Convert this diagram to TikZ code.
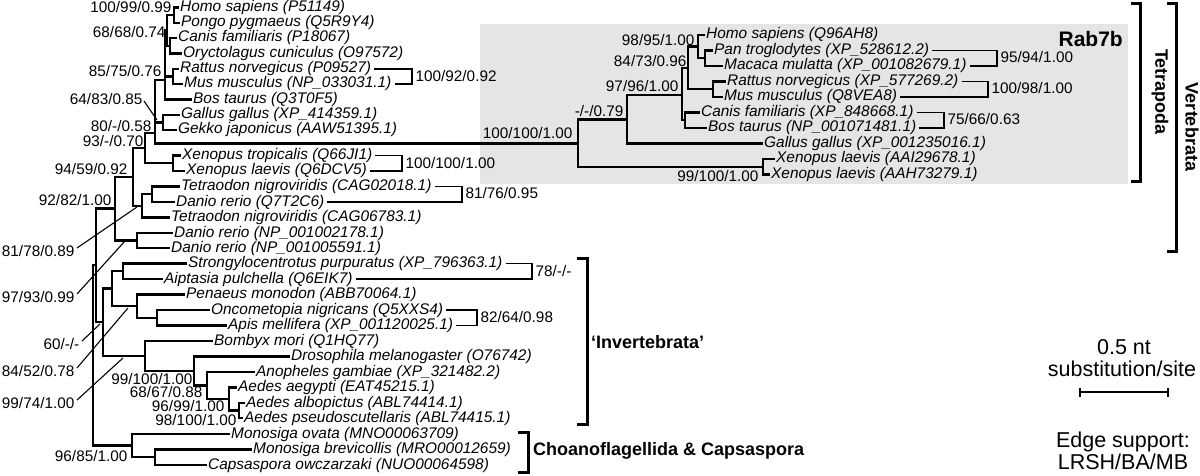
\documentclass[tikz,border=0pt]{standalone}
\usepackage{fontspec}
\setmainfont{Liberation Sans}
\begin{document}
\begin{tikzpicture}[x=1pt,y=-1pt,
  leaflab/.style={anchor=west,inner sep=1pt,font=\fontsize{15.4}{16}\selectfont\itshape,text height=11pt,text depth=3pt},
  suplab/.style={inner sep=0.5pt,font=\fontsize{15.3}{16}\selectfont,text height=10.5pt,text depth=1pt},
  biglab/.style={inner sep=0pt,font=\fontsize{18}{20}\selectfont\bfseries},
  notelab/.style={inner sep=0pt,font=\fontsize{21.5}{23}\selectfont},
  treeline/.style={line width=2.2pt},
  thinline/.style={line width=1.1pt},
  bracketline/.style={line width=3pt},
]
\useasboundingbox (0,0) rectangle (1200,476);
\fill[gray!20] (480,24) rectangle (1128,184);

% ---------- leaves (Rab7) ----------
\node[leaflab] (homo)   at (179,7.5)   {Homo sapiens (P51149)};
\node[leaflab] (pongo)  at (180,23)    {Pongo pygmaeus (Q5R9Y4)};
\node[leaflab] (canis)  at (177,38)    {Canis familiaris (P18067)};
\node[leaflab] (oryct)  at (182,53.5)  {Oryctolagus cuniculus (O97572)};
\node[leaflab] (rattus) at (179,69)    {Rattus norvegicus (P09527)};
\node[leaflab] (mus)    at (183,84)    {Mus musculus (NP\_033031.1)};
\node[leaflab] (bos)    at (192,99.5)  {Bos taurus (Q3T0F5)};
\node[leaflab] (gallus) at (180,115)   {Gallus gallus (XP\_414359.1)};
\node[leaflab] (gekko)  at (177,130)   {Gekko japonicus (AAW51395.1)};
\node[leaflab] (xtrop)  at (181,155.5) {Xenopus tropicalis (Q66JI1)};
\node[leaflab] (xlaev)  at (185,171)   {Xenopus laevis (Q6DCV5)};
\node[leaflab] (tet1)   at (180,186.5) {Tetraodon nigroviridis (CAG02018.1)};
\node[leaflab] (dan1)   at (175,202)   {Danio rerio (Q7T2C6)};
\node[leaflab] (tet2)   at (170,217.5) {Tetraodon nigroviridis (CAG06783.1)};
\node[leaflab] (dan2)   at (173,233)   {Danio rerio (NP\_001002178.1)};
\node[leaflab] (dan3)   at (170,248)   {Danio rerio (NP\_001005591.1)};
\node[leaflab] (strong) at (187,263.5) {Strongylocentrotus purpuratus (XP\_796363.1)};
\node[leaflab] (aipt)   at (163,279)   {Aiptasia pulchella (Q6EIK7)};
\node[leaflab] (pen)    at (185,294.5) {Penaeus monodon (ABB70064.1)};
\node[leaflab] (onco)   at (210,310)   {Oncometopia nigricans (Q5XXS4)};
\node[leaflab] (apis)   at (227,325.5) {Apis mellifera (XP\_001120025.1)};
\node[leaflab] (bomb)   at (213,341)   {Bombyx mori (Q1HQ77)};
\node[leaflab] (dros)   at (290,356.5) {Drosophila melanogaster (O76742)};
\node[leaflab] (anoph)  at (255,372)   {Anopheles gambiae (XP\_321482.2)};
\node[leaflab] (aaeg)   at (237,387.5) {Aedes aegypti (EAT45215.1)};
\node[leaflab] (aalb)   at (245,403)   {Aedes albopictus (ABL74414.1)};
\node[leaflab] (apse)   at (243,418)   {Aedes pseudoscutellaris (ABL74415.1)};
\node[leaflab] (mova)   at (230,434)   {Monosiga ovata (MNO00063709)};
\node[leaflab] (mbre)   at (252,449.5) {Monosiga brevicollis (MRO00012659)};
\node[leaflab] (caps)   at (207,465)   {Capsaspora owczarzaki (NUO00064598)};

% ---------- leaves (Rab7b) ----------
\node[leaflab] (homoB) at (705,35)    {Homo sapiens (Q96AH8)};
\node[leaflab] (panB)  at (713,50.5)  {Pan troglodytes (XP\_528612.2)};
\node[leaflab] (macB)  at (723,66)    {Macaca mulatta (XP\_001082679.1)};
\node[leaflab] (ratB)  at (726,81.5)  {Rattus norvegicus (XP\_577269.2)};
\node[leaflab] (musB)  at (723,97)    {Mus musculus (Q8VEA8)};
\node[leaflab] (canB)  at (700,112.5) {Canis familiaris (XP\_848668.1)};
\node[leaflab] (bosB)  at (707,128)   {Bos taurus (NP\_001071481.1)};
\node[leaflab] (galB)  at (763,143.5) {Gallus gallus (XP\_001235016.1)};
\node[leaflab] (xen1B) at (775,159)   {Xenopus laevis (AAI29678.1)};
\node[leaflab] (xen2B) at (770,174.5) {Xenopus laevis (AAH73279.1)};

% ---------- internal nodes ----------
\coordinate (nHP) at (174,15.25);
\coordinate (nCO) at (170,45.75);
\coordinate (nHPCO) at (167,30.5);
\coordinate (nRMa) at (173,76.5);
\coordinate (nA) at (165,80);
\coordinate (nGG) at (163,122.5);
\coordinate (nB) at (155,133);
\coordinate (nXX) at (173,163.25);
\coordinate (nC) at (145,148);
\coordinate (nTD) at (152,194.25);
\coordinate (nF) at (142,206);
\coordinate (nE) at (133,177);
\coordinate (nDD) at (137,240.5);
\coordinate (nG) at (115,208.5);
\coordinate (nSA) at (123,271.25);
\coordinate (nOA) at (157,317.75);
\coordinate (nPO) at (137,306);
\coordinate (nSAPO) at (112,288.5);
\coordinate (nAP) at (239,410.5);
\coordinate (nAE) at (229,399);
\coordinate (nAA) at (207,385.5);
\coordinate (nDI) at (194,371);
\coordinate (nBD) at (145,356);
\coordinate (nI) at (103,322);
\coordinate (nVI) at (96,265);
\coordinate (nMC) at (155,457.25);
\coordinate (nCH) at (132,445.5);
\coordinate (nRoot) at (93,355);
\coordinate (nRa) at (578,143.5);
\coordinate (nRb) at (627,119.5);
\coordinate (nRc) at (682,95);
\coordinate (nRd) at (688,68);
\coordinate (nRe) at (698,46.5);
\coordinate (nRf) at (705,58.25);
\coordinate (nRg) at (713,89.25);
\coordinate (nRh) at (685,120.25);
\coordinate (nRi) at (763,166.75);

% ---------- edges ----------
\foreach \p/\c in {nHPCO/nHP,nHPCO/nCO,nA/nHPCO,nA/nRMa,nB/nA,nB/nGG,nB/nRa,
  nC/nB,nC/nXX,nF/nTD,nE/nC,nE/nF,nG/nE,nG/nDD,nPO/nOA,nSAPO/nSA,nSAPO/nPO,
  nAE/nAP,nAA/nAE,nDI/nAA,nBD/nDI,nI/nSAPO,nI/nBD,nVI/nG,nVI/nI,nCH/nMC,
  nRoot/nVI,nRoot/nCH,nRa/nRb,nRa/nRi,nRb/nRc,nRc/nRd,nRc/nRh,nRd/nRe,nRd/nRg,nRe/nRf}
  \draw[treeline] (\p) |- (\c);
\foreach \p/\c in {nHP/homo,nHP/pongo,nCO/canis,nCO/oryct,nRMa/rattus,nRMa/mus,nA/bos,
  nGG/gallus,nGG/gekko,nXX/xtrop,nXX/xlaev,nTD/tet1,nTD/dan1,nF/tet2,nDD/dan2,nDD/dan3,
  nSA/strong,nSA/aipt,nPO/pen,nOA/onco,nOA/apis,nBD/bomb,nDI/dros,nAA/anoph,nAE/aaeg,
  nAP/aalb,nAP/apse,nCH/mova,nMC/mbre,nMC/caps,
  nRe/homoB,nRf/panB,nRf/macB,nRg/ratB,nRg/musB,nRh/canB,nRh/bosB,nRb/galB,nRi/xen1B,nRi/xen2B}
  \draw[treeline] (\p) |- (\c.west);

% ---------- support labels ----------
\node[suplab,anchor=east] (s1) at (172,7.5) {100/99/0.99};
\node[suplab,anchor=east] (s2) at (166,33) {68/68/0.74};
\node[suplab,anchor=east] (s3) at (162,72) {85/75/0.76};
\node[suplab,anchor=east] (s4) at (143,100) {64/83/0.85};
\node[suplab,anchor=east] (s5) at (152,127) {80/-/0.58};
\node[suplab,anchor=east] (s6) at (144,142) {93/-/0.70};
\node[suplab,anchor=east] (s7) at (128,170) {94/59/0.92};
\node[suplab,anchor=east] (s8) at (112,201) {92/82/1.00};
\node[suplab,anchor=east] (s9) at (75,252) {81/78/0.89};
\node[suplab,anchor=east] (s10) at (75,298) {97/93/0.99};
\node[suplab,anchor=east] (s11) at (80,345) {60/-/-};
\node[suplab,anchor=east] (s12) at (75,372) {84/52/0.78};
\node[suplab,anchor=east] (s13) at (75,404) {99/74/1.00};
\node[suplab,anchor=east] (s14) at (193,379.5) {99/100/1.00};
\node[suplab,anchor=east] (s15) at (203,393) {68/67/0.88};
\node[suplab,anchor=east] (s16) at (225,407) {96/99/1.00};
\node[suplab,anchor=east] (s17) at (237,421) {98/100/1.00};
\node[suplab,anchor=east] (s18) at (128,457) {96/85/1.00};
\node[suplab,anchor=east] (t1) at (573,134) {100/100/1.00};
\node[suplab,anchor=east] (t2) at (624,112) {-/-/0.79};
\node[suplab,anchor=east] (t3) at (679,87) {97/96/1.00};
\node[suplab,anchor=east] (t4) at (687,62) {84/73/0.96};
\node[suplab,anchor=east] (t5) at (695,41) {98/95/1.00};
\node[suplab,anchor=east] (t6) at (759,177) {99/100/1.00};

% pointers
\coordinate (q4) at (157,120);
\coordinate (q9) at (137,207);
\coordinate (q10) at (125,241);
\coordinate (q11) at (100,324);
\coordinate (q12) at (128,308);
\coordinate (q13) at (123,358);
\draw[thinline] ([shift={(1,1)}]s4.east) -- (q4);
\foreach \s/\q in {s9/q9,s10/q10,s11/q11,s12/q12,s13/q13}
  \draw[thinline] ([shift={(2,-4)}]\s.east) -- (\q);

% ---------- side brackets ----------
\coordinate (bRM) at (412,76.5);
\coordinate (bXX) at (402,163.25);
\coordinate (bTD) at (462,194.25);
\coordinate (bSA) at (532,271.25);
\coordinate (bOA) at (477,317.75);
\coordinate (bPM) at (997,58.25);
\coordinate (bRMb) at (988,89.25);
\coordinate (bCB) at (944,120.25);
\foreach \a/\b/\k in {rattus/mus/bRM,xtrop/xlaev/bXX,tet1/dan1/bTD,strong/aipt/bSA,onco/apis/bOA,
  panB/macB/bPM,ratB/musB/bRMb,canB/bosB/bCB}{
  \draw[thinline] ([xshift=2pt]\a.east) -| (\k);
  \draw[thinline] ([xshift=2pt]\b.east) -| (\k);
}
\node[suplab,anchor=west] (u1) at ([xshift=3pt]bRM) {100/92/0.92};
\node[suplab,anchor=west] (u2) at ([xshift=3pt]bXX) {100/100/1.00};
\node[suplab,anchor=west] (u3) at ([xshift=3pt]bTD) {81/76/0.95};
\node[suplab,anchor=west] (u4) at ([xshift=3pt]bSA) {78/-/-};
\node[suplab,anchor=west] (u5) at ([xshift=3pt]bOA) {82/64/0.98};
\node[suplab,anchor=west] (u6) at ([xshift=3pt]bPM) {95/94/1.00};
\node[suplab,anchor=west] (u7) at ([xshift=3pt]bRMb) {100/98/1.00};
\node[suplab,anchor=west] (u8) at ([xshift=3pt]bCB) {75/66/0.63};

% ---------- group brackets ----------
\node[inner sep=0pt,font=\fontsize{21}{23}\selectfont\bfseries,anchor=east] (rab) at (1123,39) {Rab7b};
\coordinate (invT) at (577,258);
\coordinate (invB) at (577,424);
\draw[bracketline] (invT) -- ++(10,0) |- (invB);
\node[biglab,anchor=west] (invL) at (591,342) {‘Invertebrata’};
\coordinate (choT) at (518,432);
\coordinate (choB) at (518,472);
\draw[bracketline] (choT) -- ++(10,0) |- (choB);
\node[biglab,anchor=west] (choL) at (533,451) {Choanoflagellida \& Capsaspora};
\coordinate (tetT) at (1131,4);
\coordinate (tetB) at (1131,182);
\draw[bracketline] (tetT) -- ++(9,0) |- (tetB);
\node[biglab,rotate=-90] (tetL) at (1160,92) {Tetrapoda};
\coordinate (verT) at (1167,4);
\coordinate (verB) at (1167,251);
\draw[bracketline] (verT) -- ++(9,0) |- (verB);
\node[biglab,rotate=-90] (verL) at (1192,127) {Vertebrata};

% ---------- scale and legend ----------
\coordinate (scA) at (1080,392);
\coordinate (scB) at (1168,392);
\draw[line width=1.6pt] (scA) -- (scB);
\draw[line width=1.6pt] ([yshift=-4.5pt]scA) -- ([yshift=4.5pt]scA);
\draw[line width=1.6pt] ([yshift=-4.5pt]scB) -- ([yshift=4.5pt]scB);
\node[notelab] (sc1) at (1124,347) {0.5 nt};
\node[notelab] (sc2) at (1122,369) {substitution/site};
\node[notelab] (lg1) at (1123,442) {Edge support:};
\node[notelab] (lg2) at (1123,462) {LRSH/BA/MB};
\end{tikzpicture}
\end{document}
